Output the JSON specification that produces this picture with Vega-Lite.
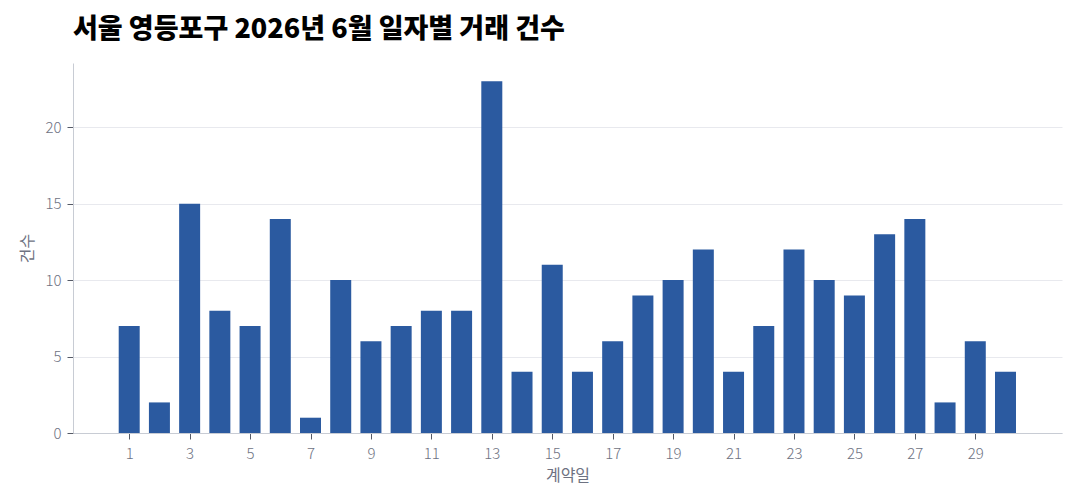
{
  "$schema": "https://vega.github.io/schema/vega-lite/v6.json",
  "width": 989,
  "height": 370,
  "autosize": {"type": "none"},
  "padding": {"left": 73, "top": 63, "right": 18, "bottom": 71},
  "background": "white",
  "title": {
    "text": "서울 영등포구 2026년 6월 일자별 거래 건수",
    "anchor": "start",
    "frame": "group",
    "font": "Noto Sans CJK KR",
    "fontSize": 27,
    "fontWeight": 900,
    "color": "black",
    "offset": 19
  },
  "data": {
    "values": [
      {"day": 1, "count": 7}, {"day": 2, "count": 2}, {"day": 3, "count": 15},
      {"day": 4, "count": 8}, {"day": 5, "count": 7}, {"day": 6, "count": 14},
      {"day": 7, "count": 1}, {"day": 8, "count": 10}, {"day": 9, "count": 6},
      {"day": 10, "count": 7}, {"day": 11, "count": 8}, {"day": 12, "count": 8},
      {"day": 13, "count": 23}, {"day": 14, "count": 4}, {"day": 15, "count": 11},
      {"day": 16, "count": 4}, {"day": 17, "count": 6}, {"day": 18, "count": 9},
      {"day": 19, "count": 10}, {"day": 20, "count": 12}, {"day": 21, "count": 4},
      {"day": 22, "count": 7}, {"day": 23, "count": 12}, {"day": 24, "count": 10},
      {"day": 25, "count": 9}, {"day": 26, "count": 13}, {"day": 27, "count": 14},
      {"day": 28, "count": 2}, {"day": 29, "count": 6}, {"day": 30, "count": 4}
    ]
  },
  "mark": {"type": "bar", "color": "#2b5aa0", "size": 21},
  "encoding": {
    "x": {
      "field": "day",
      "type": "quantitative",
      "title": "계약일",
      "scale": {"domain": [-0.86, 31.87], "nice": false, "zero": false, "padding": 0},
      "axis": {
        "values": [1, 3, 5, 7, 9, 11, 13, 15, 17, 19, 21, 23, 25, 27, 29],
        "grid": false,
        "labelPadding": 7,
        "titlePadding": 6
      }
    },
    "y": {
      "field": "count",
      "type": "quantitative",
      "title": "건수",
      "scale": {"domain": [0, 24.2], "nice": false},
      "axis": {"values": [0, 5, 10, 15, 20], "grid": true, "labelPadding": 6, "titlePadding": 9}
    }
  },
  "config": {
    "view": {"stroke": null},
    "axis": {
      "labelFont": "Noto Sans CJK KR",
      "titleFont": "Noto Sans CJK KR",
      "labelFontSize": 15,
      "titleFontSize": 16,
      "titleFontWeight": "normal",
      "labelFontWeight": 300,
      "labelColor": "#6e7282",
      "titleColor": "#6e7282",
      "domainColor": "#c8ccd4",
      "tickColor": "#555a66",
      "tickSize": 6,
      "gridColor": "#e8e9ee"
    }
  }
}
